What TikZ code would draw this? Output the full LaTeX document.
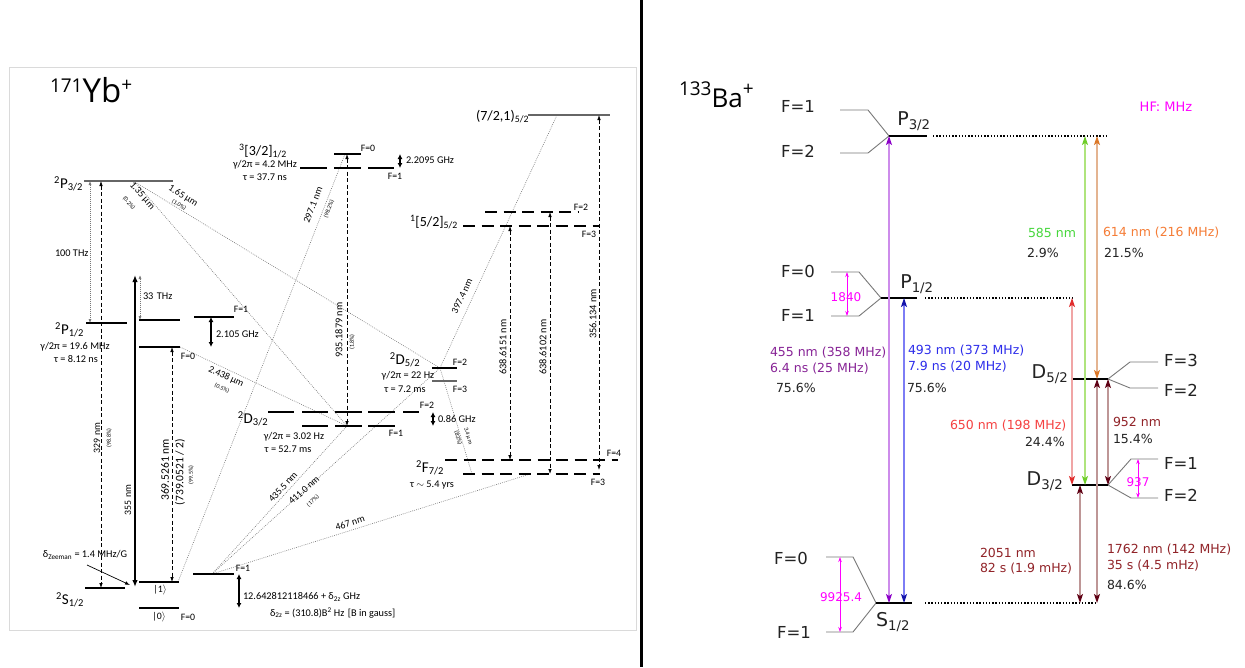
\documentclass[tikz,border=0pt]{standalone}
\usepackage{fontspec}
\setmainfont{Carlito}
\newfontfamily\dvfont{DejaVu Sans}
\newfontfamily\ttlfont{Open Sans}
\usetikzlibrary{arrows.meta}
\definecolor{frameg}{RGB}{218,218,218}
\definecolor{lvlgray}{RGB}{120,120,120}
\definecolor{purL}{RGB}{205,140,235}
\definecolor{purH}{RGB}{140,0,200}
\definecolor{purT}{RGB}{135,35,150}
\definecolor{bluL}{RGB}{125,125,245}
\definecolor{bluH}{RGB}{20,20,170}
\definecolor{bluT}{RGB}{45,45,235}
\definecolor{redL}{RGB}{240,165,165}
\definecolor{redH}{RGB}{225,45,45}
\definecolor{redT}{RGB}{245,65,65}
\definecolor{grnL}{RGB}{175,228,125}
\definecolor{grnH}{RGB}{110,205,40}
\definecolor{grnT}{RGB}{70,215,60}
\definecolor{orgL}{RGB}{228,180,145}
\definecolor{orgH}{RGB}{220,120,40}
\definecolor{orgT}{RGB}{245,125,55}
\definecolor{marL}{RGB}{190,150,150}
\definecolor{marH}{RGB}{95,0,20}
\definecolor{marT}{RGB}{145,35,40}
\definecolor{mag}{RGB}{255,0,255}
\definecolor{txtd}{RGB}{35,35,35}
\tikzset{
 every node/.style={inner sep=0pt, outer sep=0pt},
 lvl/.style={line width=2.4pt},
 glvl/.style={line width=2pt, black!60},
 dlvl/.style={line width=2.4pt, dash pattern=on 12pt off 6.5pt},
 faint/.style={lvlgray, line width=0.6pt, dash pattern=on 0.8pt off 1.2pt},
 ltips/.style={{Latex[length=5pt,width=3.6pt]}-{Latex[length=5pt,width=3.6pt]}},
 dasharr/.style={ltips, line width=0.8pt, dash pattern=on 4pt off 2.5pt},
 dotarr/.style={{Latex[length=4pt,width=3pt]}-{Latex[length=4pt,width=3pt]}, lvlgray, line width=0.7pt, dash pattern=on 0.8pt off 1.2pt},
 hfarr/.style={{Latex[length=5pt,width=5pt]}-{Latex[length=5pt,width=5pt]}, line width=1.6pt},
 ylab/.style={font=\fontsize{10.3}{11}\selectfont},
 ysm/.style={font=\fontsize{9.8}{10}\selectfont},
 ytiny/.style={font=\fontsize{6}{7}\selectfont},
 ybig/.style={font=\fontsize{15}{16}\selectfont},
 rlab/.style={font=\dvfont\fontsize{12.5}{14}\selectfont, anchor=west},
 baF/.style={font=\dvfont\fontsize{16.5}{18}\selectfont, text=txtd},
 baS/.style={font=\dvfont\fontsize{19}{21}\selectfont, text=txtd},
 hflab/.style={font=\dvfont\fontsize{12}{13}\selectfont, text=mag},
 hfline/.style={lvlgray, line width=0.9pt},
 balvl/.style={line width=2pt},
 badot/.style={line width=1.3pt, dash pattern=on 1.3pt off 1.9pt},
 baarr/.style 2 args={draw=#1, line width=1.2pt, {Stealth[length=9pt,width=6pt,inset=2pt,color=#2]}-{Stealth[length=9pt,width=6pt,inset=2pt,color=#2]}},
 magarr/.style={mag, line width=0.8pt, {Stealth[length=5pt,width=3.5pt]}-{Stealth[length=5pt,width=3.5pt]}},
}
\begin{document}
\begin{tikzpicture}[x=1pt,y=-1pt]
\useasboundingbox (0,0) rectangle (1245,667);
\fill[white] (0,0) rectangle (1245,667);
% ================= LEFT PANEL: Yb+ =================
\draw[frameg, line width=0.8pt] (9,67) rectangle (636,630);
\draw[line width=3pt] (641,0) -- (641,667);

% coordinates
\coordinate (P32x) at (135,182);
\coordinate (D32x) at (347,426);
\coordinate (D52x) at (440,368);
\coordinate (P12x) at (180,347);
\coordinate (S1x) at (178,582);
\coordinate (TQx) at (345,154);
\coordinate (SF1x) at (212,574);
\coordinate (F73x) at (530,474);
\coordinate (F73y) at (472,474);
\coordinate (Q72x) at (557,115);

% dotted decay lines
\draw[faint] (P32x) -- (D32x);
\draw[faint] (P32x) -- (D52x);
\draw[faint] (P12x) -- (D32x);
\draw[faint] (S1x) -- (TQx);
\draw[faint] (SF1x) -- (D32x);
\draw[faint] (SF1x) -- (D52x);
\draw[faint] (SF1x) -- (F73x);
\draw[faint] (D52x) -- (F73y);
\draw[faint] (D52x) -- (Q72x);

% levels
\draw[glvl] (84,181) -- (173,181);
\draw[lvl] (86,323) -- (127,323);
\draw[lvl] (139,320) -- (180,320);
\draw[lvl] (194,317) -- (234,317);
\draw[lvl] (139,347) -- (180,347);
\draw[lvl] (85,588) -- (125,588);
\draw[lvl] (139,582) -- (179,582);
\draw[lvl] (139,608) -- (179,608);
\draw[lvl] (193,574) -- (234,574);
\draw[lvl] (334,154) -- (361,154);
\draw[lvl] (300,168) -- (327,168) (334,168) -- (361,168) (368,168) -- (394,168);
\draw[lvl] (268,412) -- (294,412) (302,412) -- (328,412) (335,412) -- (362,412) (368,412) -- (395,412) (403,412) -- (419,412);
\draw[lvl] (302,426) -- (328,426) (335,426) -- (362,426) (368,426) -- (395,426);
\draw[lvl] (432,368) -- (457,368);
\draw[glvl] (432,381) -- (457,381);
\draw[dlvl] (445,460) -- (618,460);
\draw[dlvl] (463,474) -- (600,474);
\draw[dlvl] (485,212) -- (578,212);
\draw[dlvl] (463,226) -- (600,226);
\draw[glvl] (528,115) -- (610,115);

% vertical arrows
\coordinate (a100t) at (90,181); \coordinate (a100b) at (90,323);
\coordinate (a329t) at (101,181); \coordinate (a329b) at (101,588);
\coordinate (a355t) at (135,275); \coordinate (a355b) at (135,587);
\coordinate (a33t) at (140,275); \coordinate (a33b) at (140,320);
\coordinate (g2t) at (211,317); \coordinate (g2b) at (211,347);
\coordinate (a369t) at (172,347); \coordinate (a369b) at (172,582);
\coordinate (g12t) at (239,574); \coordinate (g12b) at (239,608);
\coordinate (g22t) at (400,154); \coordinate (g22b) at (400,168);
\coordinate (g086t) at (433,412); \coordinate (g086b) at (433,426);
\coordinate (a935t) at (347,154); \coordinate (a935b) at (347,426);
\coordinate (a6151t) at (510,226); \coordinate (a6151b) at (510,460);
\coordinate (a6102t) at (550,212); \coordinate (a6102b) at (550,474);
\coordinate (a356t) at (599,115); \coordinate (a356b) at (599,470);
\coordinate (zs) at (87,565); \coordinate (ze) at (130,585);

\draw[dotarr] (a100t) -- (a100b);
\draw[dotarr] (a33t) -- (a33b);
\draw[dasharr] (a329t) -- (a329b);
\draw[dasharr] (a369t) -- (a369b);
\draw[dasharr] (a935t) -- (a935b);
\draw[dasharr] (a6151t) -- (a6151b);
\draw[dasharr] (a6102t) -- (a6102b);
\draw[dasharr] (a356t) -- (a356b);
\draw[line width=1.8pt, {Latex[length=7pt,width=5.5pt]}-{Latex[length=7pt,width=5.5pt]}] (a355t) -- (a355b);
\draw[hfarr] (g2t) -- (g2b);
\draw[hfarr] (g12t) -- (g12b);
\draw[hfarr] (g22t) -- (g22b);
\draw[hfarr] (g086t) -- (g086b);
\draw[line width=0.7pt, -{Latex[length=5pt,width=3.6pt]}] (zs) -- (ze);

% title
\node[anchor=base west] (ybT) at (50,102) {\ttlfont\fontsize{33}{35}\selectfont{\fontsize{19}{19}\selectfont\raisebox{10pt}{171}}Yb{\fontsize{19}{19}\selectfont\raisebox{11pt}{+}}};

% labels: P3/2, P1/2, S1/2
\node[ybig, anchor=east] (lP32) at (83,184) {\textsuperscript{2}P\textsubscript{3/2}};
\node[ylab, anchor=west] (l100) at (55,253) {100 THz};
\node[ybig, anchor=east] (lP12) at (84,330) {\textsuperscript{2}P\textsubscript{1/2}};
\node[ylab] (lP12g) at (75,347) {γ/2π = 19.6 MHz};
\node[ylab] (lP12t) at (76,359) {τ = 8.12 ns};
\node[ylab, anchor=west] (l33) at (143,296) {33\,\,THz};
\node[ysm] (lP1F1) at (241,309) {F=1};
\node[ysm] (lP1F0) at (188,356) {F=0};
\node[ylab, anchor=west] (l2105) at (216,334) {2.105 GHz};
\node[ybig, anchor=east] (lS12) at (84,600) {\textsuperscript{2}S\textsubscript{1/2}};
\node[ylab] (lzee) at (85,555) {δ\textsubscript{Zeeman} = 1.4 MHz/G};
\node[ysm] (lket1) at (160,590) {|1$\rangle$};
\node[ysm] (lket0) at (159,617) {|0$\rangle$};
\node[ysm] (lSF0) at (188,617) {F=0};
\node[ysm] (lSF1) at (243,568) {F=1};
\node[ylab, anchor=west] (l1264) at (243,597) {12.642812118466 + δ\textsubscript{2z} GHz};
\node[ylab, anchor=west] (ld2z) at (270,613) {δ\textsubscript{2z} = (310.8)B\textsuperscript{2} Hz\,\,[B in gauss]};

% vertical rotated wavelength labels
\node[ysm, rotate=90] (l329) at (97,438) {329 nm};
\node[ytiny, rotate=90] (l329p) at (109,438) {(98.8\%)};
\node[ysm, rotate=90] (l355) at (128,500) {355 nm};
\node[font=\fontsize{11.5}{12}\selectfont, rotate=90] (l369) at (165,470) {369.5261 nm};
\node[font=\fontsize{11.5}{12}\selectfont, rotate=90] (l739) at (180,472) {(739.0521 / 2)};
\node[ytiny, rotate=90] (l369p) at (191,475) {(99.5\%)};

% 3[3/2]
\node[font=\fontsize{14}{15}\selectfont, anchor=west] (l332) at (239,151) {\textsuperscript{3}[3/2]\textsubscript{1/2}};
\node[ylab] (l332g) at (265,165) {γ/2π = 4.2 MHz};
\node[ylab] (l332t) at (265,177) {τ = 37.7 ns};
\node[ysm] (lTF0) at (368,148) {F=0};
\node[ysm] (lTF1) at (395,176) {F=1};
\node[ylab, anchor=west] (l22095) at (406,160) {2.2095 GHz};
\node[ylab, rotate=90] (l935) at (339,330) {935.1879 nm};
\node[ytiny, rotate=90] (l935p) at (352,342) {(1.8\%)};

% D3/2
\node[ybig] (lD32) at (253,419) {\textsuperscript{2}D\textsubscript{3/2}};
\node[ylab] (lD32g) at (294,437) {γ/2π = 3.02 Hz};
\node[ylab] (lD32t) at (288,449) {τ = 52.7 ms};
\node[ysm] (lDF2) at (427,405) {F=2};
\node[ysm] (lDF1) at (396,433) {F=1};
\node[ylab, anchor=west] (l086) at (438,419) {0.86 GHz};

% D5/2
\node[ybig] (lD52) at (405,360) {\textsuperscript{2}D\textsubscript{5/2}};
\node[ylab] (lD52g) at (408,376) {γ/2π = 22 Hz};
\node[ylab] (lD52t) at (405,389) {τ = 7.2 ms};
\node[ysm] (lD5F2) at (460,362) {F=2};
\node[ysm] (lD5F3) at (460,389) {F=3};

% F7/2
\node[ybig] (lF72) at (430,468) {\textsuperscript{2}F\textsubscript{7/2}};
\node[ylab] (lF72t) at (432,485) {τ $\sim$ 5.4 yrs};
\node[ysm] (lF7F4) at (614,453) {F=4};
\node[ysm] (lF7F3) at (598,482) {F=3};

% 1[5/2] and (7/2,1)
\node[font=\fontsize{14}{15}\selectfont, anchor=west] (l152) at (410,222) {\textsuperscript{1}[5/2]\textsubscript{5/2}};
\node[ysm] (l15F2) at (581,207) {F=2};
\node[ysm] (l15F3) at (589,234) {F=3};
\node[font=\fontsize{14}{15}\selectfont, anchor=east] (l721) at (529,117) {(7/2,1)\textsubscript{5/2}};
\node[ylab, rotate=90] (l6151) at (503,347) {638.6151 nm};
\node[ylab, rotate=90] (l6102) at (543,347) {638.6102 nm};
\node[ylab, rotate=90] (l356) at (593,314) {356.134 nm};

% decay-line labels
\node[ysm, rotate=-49] (l135) at (142,196) {1.35 µm};
\node[ytiny, rotate=-49] (l135p) at (129,203) {(0.2\%)};
\node[ysm, rotate=-32] (l165) at (183,196) {1.65 µm};
\node[ytiny, rotate=-32] (l165p) at (179,205) {(1.0\%)};
\node[ysm, rotate=-25] (l2438) at (226,377) {2.438 µm};
\node[ytiny, rotate=-25] (l2438p) at (222,388) {(0.5\%)};
\node[ysm, rotate=68.7] (l297) at (313,205) {297.1 nm};
\node[ytiny, rotate=68.7] (l297p) at (329,209) {(98.2\%)};
\node[ysm, rotate=47.6] (l435) at (283,487) {435.5 nm};
\node[ysm, rotate=42] (l411) at (304,490) {411.0 nm};
\node[ytiny, rotate=42] (l411p) at (313,501) {(17\%)};
\node[ysm, rotate=17.5] (l467) at (350,523) {467 nm};
\node[ysm, rotate=64.9] (l397) at (462,296) {397.4 nm};
\node[ytiny, rotate=-73] (l34) at (468,436) {3.4 µm};
\node[ytiny, rotate=-73] (l34p) at (458,438) {(83\%)};

% ================= RIGHT PANEL: Ba+ =================
\node[anchor=base west] (baT) at (679,107) {\ttlfont\fontsize{26}{28}\selectfont{\fontsize{19}{19}\selectfont\raisebox{12pt}{133}}Ba{\fontsize{19}{19}\selectfont\raisebox{12pt}{+}}};
\node[hflab, font=\dvfont\fontsize{13}{14}\selectfont] (hfmhz) at (1166,107) {HF: MHz};

% hyperfine fans
\draw[hfline] (840,110) -- (868,110) -- (889,136);
\draw[hfline] (840,153) -- (868,153) -- (889,136);
\draw[hfline] (831,272) -- (859,272) -- (881,298);
\draw[hfline] (831,316) -- (859,316) -- (881,298);
\draw[hfline] (826,557) -- (853,557) -- (876,603);
\draw[hfline] (826,632) -- (853,632) -- (876,603);
\draw[hfline] (1108,379) -- (1130,362) -- (1158,362);
\draw[hfline] (1108,379) -- (1130,388) -- (1158,388);
\draw[hfline] (1108,485) -- (1131,459) -- (1158,459);
\draw[hfline] (1108,485) -- (1131,498) -- (1158,498);

% main levels
\draw[balvl] (889,136) -- (927,136);
\draw[balvl] (881,298) -- (917,298);
\draw[balvl] (876,603) -- (912,603);
\draw[balvl] (1073,379) -- (1108,379);
\draw[balvl] (1072,485) -- (1108,485);
\draw[badot] (933,136) -- (1107,136);
\draw[badot] (925,298) -- (1073,298);
\draw[badot] (925,603) -- (1097,603);

% transition coordinates
\coordinate (bS1) at (889,603); \coordinate (bP3a) at (889,136);
\coordinate (bS2) at (904,603); \coordinate (bP1a) at (904,298);
\coordinate (bR1) at (1072,298); \coordinate (bR2) at (1072,485);
\coordinate (bG1) at (1085,136); \coordinate (bG2) at (1085,485);
\coordinate (bO1) at (1097,136); \coordinate (bO2) at (1097,379);
\coordinate (bM1) at (1097,379); \coordinate (bM2) at (1097,603);
\coordinate (bN1) at (1108,379); \coordinate (bN2) at (1108,485);
\coordinate (bK1) at (1080,485); \coordinate (bK2) at (1080,603);
\coordinate (hA1) at (847,272); \coordinate (hA2) at (847,316);
\coordinate (hB1) at (840,557); \coordinate (hB2) at (840,632);
\coordinate (hC1) at (1138,459); \coordinate (hC2) at (1138,498);

\draw[baarr={purL}{purH}] (bS1) -- (bP3a);
\draw[baarr={bluL}{bluH}] (bS2) -- (bP1a);
\draw[baarr={redL}{redH}] (bR1) -- (bR2);
\draw[baarr={grnL}{grnH}] (bG1) -- (bG2);
\draw[baarr={orgL}{orgH}] (bO1) -- (bO2);
\draw[baarr={marL}{marH}] (bM1) -- (bM2);
\draw[baarr={marL}{marH}] (bN1) -- (bN2);
\draw[baarr={marL}{marH}] (bK1) -- (bK2);
\draw[magarr] (hA1) -- (hA2);
\draw[magarr] (hB1) -- (hB2);
\draw[magarr] (hC1) -- (hC2);

% level labels
\node[baF] (bF1a) at (798,106) {F=1};
\node[baF] (bF2a) at (798,151) {F=2};
\node[baS] (bP32) at (914,121) {P\textsubscript{3/2}};
\node[baF] (bF0b) at (798,271) {F=0};
\node[baF] (bF1b) at (798,315) {F=1};
\node[baS] (bP12) at (917,284) {P\textsubscript{1/2}};
\node[baF] (bF0c) at (791,558) {F=0};
\node[baF] (bF1c) at (794,632) {F=1};
\node[baS] (bS12) at (893,622) {S\textsubscript{1/2}};
\node[baS] (bD52) at (1050,374) {D\textsubscript{5/2}};
\node[baF] (bF3d) at (1181,360) {F=3};
\node[baF] (bF2d) at (1181,390) {F=2};
\node[baS] (bD32) at (1045,481) {D\textsubscript{3/2}};
\node[baF] (bF1e) at (1181,463) {F=1};
\node[baF] (bF2e) at (1181,495) {F=2};
\node[hflab] (h1840) at (846,297) {1840};
\node[hflab] (h9925) at (841,597) {9925.4};
\node[hflab] (h937) at (1138,482) {937};

% transition labels
\node[rlab, text=purT] (t455a) at (770,353) {455 nm (358 MHz)};
\node[rlab, text=purT] (t455b) at (770,369) {6.4 ns (25 MHz)};
\node[rlab, text=txtd] (t455c) at (776,388) {75.6\%};
\node[rlab, text=bluT] (t493a) at (908,351) {493 nm (373 MHz)};
\node[rlab, text=bluT] (t493b) at (908,367) {7.9 ns (20 MHz)};
\node[rlab, text=txtd] (t493c) at (907,388) {75.6\%};
\node[rlab, text=grnT] (t585a) at (1028,233) {585 nm};
\node[rlab, text=txtd] (t585b) at (1027,253) {2.9\%};
\node[rlab, text=orgT] (t614a) at (1103,233) {614 nm (216 MHz)};
\node[rlab, text=txtd] (t614b) at (1104,253) {21.5\%};
\node[rlab, text=redT] (t650a) at (950,426) {650 nm (198 MHz)};
\node[rlab, text=txtd] (t650b) at (1025,442) {24.4\%};
\node[rlab, text=marT] (t952a) at (1113,422) {952 nm};
\node[rlab, text=txtd] (t952b) at (1113,439) {15.4\%};
\node[rlab, text=marT] (t2051a) at (980,553) {2051 nm};
\node[rlab, text=marT] (t2051b) at (980,569) {82 s (1.9 mHz)};
\node[rlab, text=marT] (t1762a) at (1107,550) {1762 nm (142 MHz)};
\node[rlab, text=marT] (t1762b) at (1107,566) {35 s (4.5 mHz)};
\node[rlab, text=txtd] (t1762c) at (1107,585) {84.6\%};
\end{tikzpicture}
\end{document}
